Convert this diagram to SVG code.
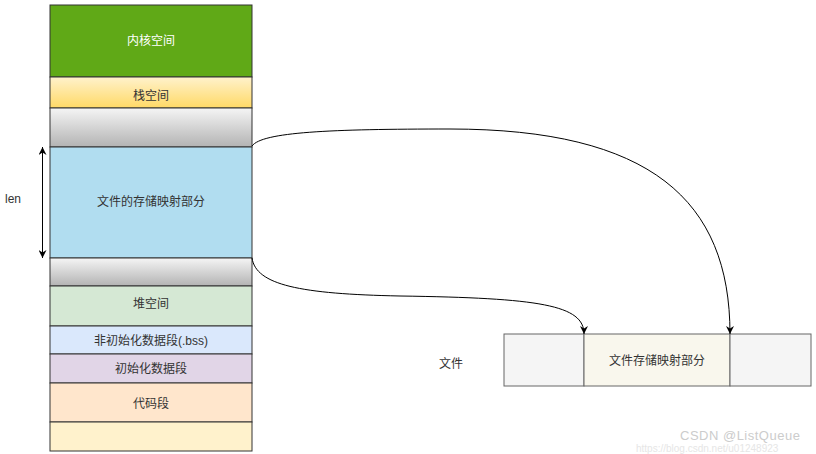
<svg xmlns="http://www.w3.org/2000/svg" width="816" height="454" viewBox="0 0 816 454">
<defs>
<linearGradient id="gYellow" x1="0" y1="0" x2="0" y2="1"><stop offset="0" stop-color="#fff2cc"/><stop offset="1" stop-color="#ffd966"/></linearGradient>
<linearGradient id="gGray" x1="0" y1="0" x2="0" y2="1"><stop offset="0" stop-color="#f5f5f5"/><stop offset="1" stop-color="#b3b3b3"/></linearGradient>
<marker id="arr" viewBox="0 0 10 10" refX="10" refY="5" markerWidth="8" markerHeight="8" markerUnits="userSpaceOnUse" orient="auto-start-reverse">
<path d="M0,0 L10,5 L0,10 L3,5 Z" fill="#000"/>
</marker>
</defs>
<style>
.blk{stroke:#333;stroke-width:1}
.t{font-family:"Liberation Sans","Noto Sans CJK SC",sans-serif;font-size:12px;fill:#333;text-anchor:middle;dominant-baseline:central}
.edge{fill:none;stroke:#000;stroke-width:1}
.wm{font-family:"Liberation Sans",sans-serif;fill:#cccccc}
</style>
<rect width="816" height="454" fill="#fff"/>
<g id="kernel"><rect class="blk" x="50" y="5" width="202" height="72" fill="#60a917" stroke="#2d7600"/><text class="t" x="151" y="41" style="fill:#fff">内核空间</text></g>
<g id="stack"><rect class="blk" x="50" y="77" width="202" height="31" fill="url(#gYellow)"/><text class="t" x="151" y="96">栈空间</text></g>
<g id="gap1"><rect class="blk" x="50" y="108" width="202" height="39" fill="url(#gGray)"/></g>
<g id="mmap"><rect class="blk" x="50" y="147" width="202" height="111" fill="#b1ddf0"/><text class="t" x="151" y="202">文件的存储映射部分</text></g>
<g id="gap2"><rect class="blk" x="50" y="258" width="202" height="28" fill="url(#gGray)"/></g>
<g id="heap"><rect class="blk" x="50" y="286" width="202" height="40" fill="#d5e8d4"/><text class="t" x="151" y="304">堆空间</text></g>
<g id="bss"><rect class="blk" x="50" y="326" width="202" height="28" fill="#dae8fc"/><text class="t" x="151" y="341">非初始化数据段(.bss)</text></g>
<g id="data"><rect class="blk" x="50" y="354" width="202" height="29" fill="#e1d5e7"/><text class="t" x="151" y="369">初始化数据段</text></g>
<g id="text"><rect class="blk" x="50" y="383" width="202" height="39" fill="#ffe6cc"/><text class="t" x="151" y="404">代码段</text></g>
<g id="bottom"><rect class="blk" x="50" y="422" width="202" height="29" fill="#fff2cc"/></g>
<g id="lenlabel"><text class="t" x="13" y="199">len</text></g>
<g id="filelabel"><text class="t" x="451" y="364">文件</text></g>
<g id="file">
<rect x="504" y="334" width="80" height="52" fill="#f5f5f5" stroke="#666"/>
<rect x="584" y="334" width="146" height="52" fill="#f9f7ed" stroke="#666"/>
<rect x="730" y="334" width="81" height="52" fill="#f5f5f5" stroke="#666"/>
<text class="t" x="657" y="361">文件存储映射部分</text>
</g>
<g id="connectors">
<path class="edge" d="M42.5,147 L42.5,258" stroke="#333" marker-start="url(#arr)" marker-end="url(#arr)"/>
<path class="edge" d="M252,146 C262,132 330,129 450,129 C650,129 730,200 730,334" marker-end="url(#arr)"/>
<path class="edge" d="M252,258 C256,285 300,294 400,296 C540,298 584,305 584,334" marker-end="url(#arr)"/>
</g>
<g id="watermark">
<text class="wm" x="680" y="440" font-size="13" letter-spacing="0.5">CSDN @ListQueue</text>
<text class="wm" x="636" y="452" font-size="10" style="fill:#e6e6e6">https://blog.csdn.net/u01248923</text>
</g>
</svg>
